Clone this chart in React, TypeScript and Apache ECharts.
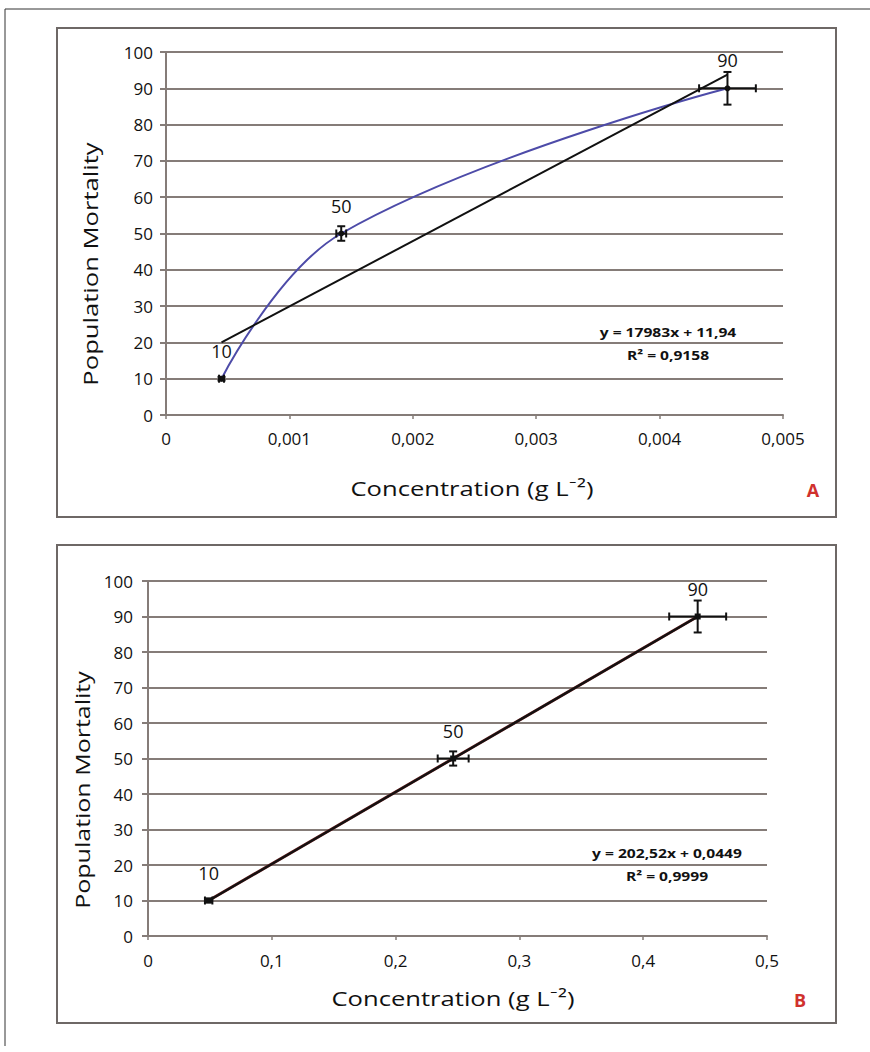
import React, { useEffect, useRef } from "react";
import * as echarts from "echarts";

// Panel A data
const concA = [0.00045, 0.00142, 0.00455];
const mortA = [10, 50, 90];
const errXA = [0.00002, 0.00004, 0.00023];
const errYA = [0.5, 2, 4.5];
const slopeA = 17983;
const interceptA = 11.94;
const r2A = 0.9158;

// Panel B data
const concB = [0.049, 0.2465, 0.444];
const mortB = [10, 50, 90];
const errXB = [0.003, 0.0125, 0.023];
const errYB = [0.5, 2, 4.5];
const slopeB = 202.52;
const interceptB = 0.0449;
const r2B = 0.9999;

const yTicks = { min: 0, max: 100, interval: 10 };
const xTicksA = { min: 0, max: 0.005, interval: 0.001 };
const xTicksB = { min: 0, max: 0.5, interval: 0.1 };

const X_TITLE = "Concentration (g L⁻²)";
const Y_TITLE = "Population Mortality";

const FONT = "'Open Sans', Lato, sans-serif";
const GRID_COLOR = "#857c78";
const TEXT = "#111";

const comma = (v: number, d: number) => String(+v.toFixed(d)).replace(".", ",");

const trend = (xs: number[], m: number, b: number) =>
  [Math.min(...xs), Math.max(...xs)].map((x) => [x, m * x + b]);

const errRender = (params: any, api: any) => {
  const x = api.value(0), y = api.value(1), dx = api.value(2), dy = api.value(3);
  const c = api.coord([x, y]);
  const l = api.coord([x - dx, y]);
  const r = api.coord([x + dx, y]);
  const t = api.coord([x, y + dy]);
  const b = api.coord([x, y - dy]);
  const cap = 4;
  const style = { stroke: "#111", lineWidth: 2, fill: "none" };
  return {
    type: "group",
    children: [
      { type: "line", shape: { x1: l[0], y1: c[1], x2: r[0], y2: c[1] }, style },
      { type: "line", shape: { x1: l[0], y1: c[1] - cap, x2: l[0], y2: c[1] + cap }, style },
      { type: "line", shape: { x1: r[0], y1: c[1] - cap, x2: r[0], y2: c[1] + cap }, style },
      { type: "line", shape: { x1: c[0], y1: t[1], x2: c[0], y2: b[1] }, style },
      { type: "line", shape: { x1: c[0] - cap, y1: t[1], x2: c[0] + cap, y2: t[1] }, style },
      { type: "line", shape: { x1: c[0] - cap, y1: b[1], x2: c[0] + cap, y2: b[1] }, style },
    ],
  };
};

const makeX = (idx: number, ticks: any, digits: number, margin: number) => ({
  type: "value",
  gridIndex: idx,
  ...ticks,
  axisLine: { show: true, lineStyle: { color: GRID_COLOR, width: 2 } },
  axisTick: { show: true, length: 4, lineStyle: { color: GRID_COLOR, width: 1.5 } },
  axisLabel: {
    margin,
    fontFamily: FONT,
    fontSize: 17,
    color: TEXT,
    formatter: (v: number) => comma(v, digits),
  },
  splitLine: { show: false },
});

const makeY = (idx: number, margin: number) => ({
  type: "value",
  gridIndex: idx,
  ...yTicks,
  axisLine: { show: true, lineStyle: { color: GRID_COLOR, width: 2 } },
  axisTick: { show: true, length: 6, lineStyle: { color: GRID_COLOR, width: 2 } },
  axisLabel: { margin, fontFamily: FONT, fontSize: 17, color: TEXT },
  splitLine: { show: true, lineStyle: { color: GRID_COLOR, width: 2 } },
});

const pointLabel = {
  show: true,
  position: "top",
  distance: 16,
  fontFamily: FONT,
  fontSize: 18,
  color: TEXT,
  formatter: (p: any) => String(p.value[1]),
};

const txt = (x: number, y: number, text: string, font: string, fill: string, scaleX = 1, rotation = 0) => ({
  type: "text",
  x,
  y,
  scaleX,
  rotation,
  style: { text, font, fill, align: "center", verticalAlign: "middle" },
});

export default function App() {
  const ref = useRef<HTMLDivElement>(null);
  useEffect(() => {
    document.body.style.margin = "0";
    const chart = echarts.init(ref.current!, null, { renderer: "svg" });
    const eqFont = `bold 13px ${FONT}`;
    const titleFont = `20px ${FONT}`;
    const option: any = {
      animation: false,
      backgroundColor: "#ffffff",
      grid: [
        { left: 166, top: 52, width: 617, height: 363 },
        { left: 148, top: 581, width: 619, height: 355 },
      ],
      xAxis: [makeX(0, xTicksA, 3, 15), makeX(1, xTicksB, 1, 16)],
      yAxis: [makeY(0, 13), makeY(1, 15)],
      series: [
        {
          type: "line",
          xAxisIndex: 0,
          yAxisIndex: 0,
          smooth: 0.4,
          data: concA.map((x, i) => [x, mortA[i]]),
          lineStyle: { color: "#4d4ba8", width: 2 },
          symbol: "circle",
          symbolSize: 6,
          itemStyle: { color: "#111" },
          label: pointLabel,
          z: 3,
        },
        {
          type: "line",
          xAxisIndex: 0,
          yAxisIndex: 0,
          data: trend(concA, slopeA, interceptA),
          lineStyle: { color: "#111", width: 2 },
          showSymbol: false,
          symbol: "none",
          z: 4,
        },
        {
          type: "custom",
          xAxisIndex: 0,
          yAxisIndex: 0,
          renderItem: errRender,
          data: concA.map((x, i) => [x, mortA[i], errXA[i], errYA[i]]),
          z: 5,
        },
        {
          type: "line",
          xAxisIndex: 1,
          yAxisIndex: 1,
          data: concB.map((x, i) => [x, mortB[i]]),
          lineStyle: { color: "#5c1a1a", width: 3 },
          symbol: "rect",
          symbolSize: 6,
          itemStyle: { color: "#111" },
          label: pointLabel,
          z: 3,
        },
        {
          type: "line",
          xAxisIndex: 1,
          yAxisIndex: 1,
          data: trend(concB, slopeB, interceptB),
          lineStyle: { color: "#111", width: 2 },
          showSymbol: false,
          symbol: "none",
          z: 4,
        },
        {
          type: "custom",
          xAxisIndex: 1,
          yAxisIndex: 1,
          renderItem: errRender,
          data: concB.map((x, i) => [x, mortB[i], errXB[i], errYB[i]]),
          z: 5,
        },
      ],
      graphic: [
        { type: "line", shape: { x1: 5, y1: 9, x2: 870, y2: 9 }, style: { stroke: "#333", lineWidth: 1 } },
        { type: "line", shape: { x1: 5, y1: 9, x2: 5, y2: 1046 }, style: { stroke: "#333", lineWidth: 1 } },
        {
          type: "rect",
          shape: { x: 57, y: 28, width: 779, height: 489 },
          style: { fill: "none", stroke: "#6e6866", lineWidth: 2 },
          z: -1,
        },
        {
          type: "rect",
          shape: { x: 57, y: 545, width: 779, height: 478 },
          style: { fill: "none", stroke: "#6e6866", lineWidth: 2 },
          z: -1,
        },
        txt(472, 488, X_TITLE, titleFont, TEXT, 1.28),
        txt(453, 998, X_TITLE, titleFont, TEXT, 1.28),
        txt(90, 264, Y_TITLE, titleFont, TEXT, 1.28, Math.PI / 2),
        txt(82, 790, Y_TITLE, titleFont, TEXT, 1.25, Math.PI / 2),
        txt(668, 332, `y = ${comma(slopeA, 2)}x + ${comma(interceptA, 2)}`, eqFont, TEXT, 1.2),
        txt(668, 355, `R² = ${comma(r2A, 4)}`, eqFont, TEXT, 1.2),
        txt(667, 853, `y = ${comma(slopeB, 2)}x + ${comma(interceptB, 4)}`, eqFont, TEXT, 1.2),
        txt(667, 876, `R² = ${comma(r2B, 4)}`, eqFont, TEXT, 1.2),
        txt(813, 490, "A", `bold 18px ${FONT}`, "#d0312d"),
        txt(800, 1000, "B", `bold 18px ${FONT}`, "#d0312d"),
      ],
    };
    chart.setOption(option);
    return () => chart.dispose();
  }, []);
  return <div ref={ref} style={{ width: 870, height: 1052 }} />;
}
